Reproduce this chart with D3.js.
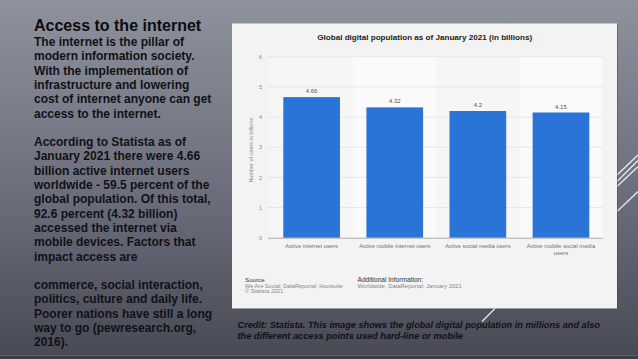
<!DOCTYPE html>
<html>
<head>
<meta charset="utf-8">
<script src="https://cdn.jsdelivr.net/npm/d3@7"></script>
<style>
html,body{margin:0;padding:0;overflow:hidden;background:#5a5c68;}
svg{display:block;}
</style>
</head>
<body>
<svg id="c" width="638" height="359"></svg>
<script>
// ---- data ----
const categories = ["Active internet users", "Active mobile internet users", "Active social media users", "Active mobile social media users"];
const categoryLines = [["Active internet users"], ["Active mobile internet users"], ["Active social media users"], ["Active mobile social media", "users"]];
const values = [4.66, 4.32, 4.2, 4.15];
const valueLabels = ["4.66", "4.32", "4.2", "4.15"];
const yTicks = [0, 1, 2, 3, 4, 5, 6];
const chartTitle = "Global digital population as of January 2021 (in billions)";
const yAxisTitle = "Number of users in billions";
const heading = "Access to the internet";
const bodyLines = [
  "The internet is the pillar of",
  "modern information society.",
  "With the implementation of",
  "infrastructure and lowering",
  "cost of internet anyone can get",
  "access to the internet.",
  "",
  "According to Statista as of",
  "January 2021 there were 4.66",
  "billion active internet users",
  "worldwide - 59.5 percent of the",
  "global population. Of this total,",
  "92.6 percent (4.32 billion)",
  "accessed the internet via",
  "mobile devices. Factors that",
  "impact access are",
  "",
  "commerce, social interaction,",
  "politics, culture and daily life.",
  "Poorer nations have still a long",
  "way to go (pewresearch.org,",
  "2016)."
];
const creditLines = [
  "Credit: Statista. This image shows the global digital population in millions and also",
  "the different access points used hard-line or mobile"
];
const sourceLines = ["We Are Social; DataReportal; Hootsuite", "© Statista 2021"];
const infoLines = ["Worldwide; DataReportal; January 2021"];

// ---- drawing ----
const svg = d3.select("#c");
const defs = svg.append("defs");
const bg = defs.append("linearGradient").attr("id","bg").attr("x1",0).attr("y1",0).attr("x2",0).attr("y2",1);
bg.append("stop").attr("offset","0%").attr("stop-color","#8e929d");
bg.append("stop").attr("offset","55%").attr("stop-color","#6b6e7a");
bg.append("stop").attr("offset","100%").attr("stop-color","#474955");
svg.append("rect").attr("width",638).attr("height",359).attr("fill","url(#bg)");
svg.append("rect").attr("x",0).attr("y",356).attr("width",638).attr("height",3).attr("fill","#3c3d47");
svg.append("line").attr("x1",0).attr("x2",638).attr("y1",355.5).attr("y2",355.5).attr("stroke","#5c5e69").attr("stroke-width",1);

// decorative diagonal lines on right
const diag = [[617,175,638,155],[617,181.5,638,160.5],[617,186.5,638,166.5],[617,211.5,638,191.5]];
svg.selectAll("line.diag").data(diag).join("line").attr("class","diag")
  .attr("x1",d=>d[0]).attr("y1",d=>d[1]).attr("x2",d=>d[2]).attr("y2",d=>d[3])
  .attr("stroke","#e8e9ee").attr("stroke-width",1.3);

// panel
svg.append("rect").attr("x",233).attr("y",24.5).attr("width",385).attr("height",285).attr("fill","#3f414b").attr("opacity",0.5);
svg.append("rect").attr("x",232).attr("y",23.5).attr("width",385).attr("height",285).attr("fill","#f3f3f3");
svg.append("line").attr("x1",482).attr("y1",321.5).attr("x2",495).attr("y2",308.5).attr("stroke","#e8e9ee").attr("stroke-width",1.3);

const x = d3.scaleBand().domain(categories).range([270, 602.6]).paddingInner(0.318).paddingOuter(0.16);
const y = d3.scaleLinear().domain([0, 6]).range([237.7, 56.7]);

// alternating band backgrounds
const step = x.step();
svg.selectAll("rect.band").data(categories).join("rect").attr("class","band")
  .attr("x",d=>x(d) - x.paddingInner()*step/2).attr("width",step)
  .attr("y",y(6)).attr("height",y(0)-y(6))
  .attr("fill",(d,i)=> i%2===0 ? "#f6f6f6" : "#fafafa");

// gridlines
svg.append("g").selectAll("line").data(yTicks.filter(t=>t>0)).join("line")
  .attr("x1",268).attr("x2",602.6).attr("y1",d=>y(d)).attr("y2",d=>y(d))
  .attr("stroke","#e2e2e2").attr("stroke-width",0.8);

const f = "Liberation Sans, Arial, sans-serif";

// y axis labels
const yAxis = svg.append("g").attr("transform","translate(262,0)")
  .call(d3.axisLeft(y).tickValues(yTicks).tickSize(0).tickPadding(0).tickFormat(d3.format("d")));
yAxis.select(".domain").remove();
yAxis.selectAll("text").attr("font-family",f).attr("font-size",5.5).attr("fill","#8a8a8a");

svg.append("text").attr("transform",`translate(253,${(y(0)+y(6))/2+3}) rotate(-90)`)
  .attr("text-anchor","middle").attr("font-family",f)
  .attr("font-size",5.5).attr("fill","#8a8a8a").text(yAxisTitle);

// bars
svg.selectAll("rect.bar").data(values).join("rect").attr("class","bar")
  .attr("x",(d,i)=>x(categories[i])).attr("width",x.bandwidth())
  .attr("y",d=>y(d)).attr("height",d=>y(0)-y(d)).attr("fill","#2a74d8");

// value labels
svg.selectAll("text.val").data(values).join("text").attr("class","val")
  .attr("x",(d,i)=>x(categories[i])+x.bandwidth()/2).attr("y",d=>y(d)-4)
  .attr("text-anchor","middle").attr("font-family",f)
  .attr("font-size",6).attr("fill","#555").text((d,i)=>valueLabels[i]);

// x axis
const xAxis = svg.append("g").attr("transform",`translate(0,${y(0)})`)
  .call(d3.axisBottom(x).tickSize(0).tickFormat(""));
xAxis.select(".domain").attr("stroke","#9a9a9a").attr("stroke-width",0.8).attr("d","M268,0.5H602.6");
categoryLines.forEach((lines,i)=>{
  const t = svg.append("text").attr("text-anchor","middle")
    .attr("font-family",f).attr("font-size",5.8).attr("fill","#707070");
  lines.forEach((ln,j)=>t.append("tspan").attr("x",x(categories[i])+x.bandwidth()/2).attr("y",y(0)+10.5+j*6.5).text(ln));
});

// title
svg.append("text").attr("x",424.7).attr("y",39.5).attr("text-anchor","middle")
  .attr("font-family",f).attr("font-weight","bold")
  .attr("font-size",8.1).attr("fill","#222").text(chartTitle);

// source / info
svg.append("text").attr("x",245).attr("y",282).attr("font-family",f).attr("font-size",6.2).attr("fill","#333").text("Source");
sourceLines.forEach((s,i)=>svg.append("text").attr("x",245).attr("y",287.8+i*5.4).attr("font-family",f).attr("font-size",5.6).attr("fill","#888").text(s));
svg.append("text").attr("x",357.5).attr("y",282).attr("font-family",f).attr("font-size",6.6).attr("fill","#333").text("Additional Information:");
infoLines.forEach((s,i)=>svg.append("text").attr("x",357.5).attr("y",287.8+i*5.4).attr("font-family",f).attr("font-size",5.9).attr("fill","#888").text(s));

// left text
svg.append("text").attr("x",34).attr("y",30.8).attr("font-family",f).attr("font-weight","bold")
  .attr("font-size",16).attr("fill","#0c0c10").text(heading);
const body = svg.append("text").attr("font-family",f).attr("font-weight","bold").attr("font-size",12).attr("fill","#111116");
bodyLines.forEach((ln,i)=>body.append("tspan").attr("x",34).attr("y",46+i*14.3).text(ln));

// credit
const cr = svg.append("text").attr("font-family",f).attr("font-weight","bold").attr("font-style","italic").attr("font-size",9.2).attr("fill","#111116");
creditLines.forEach((ln,i)=>cr.append("tspan").attr("x",237.5).attr("y",327.5+i*11).text(ln));
</script>
</body>
</html>
